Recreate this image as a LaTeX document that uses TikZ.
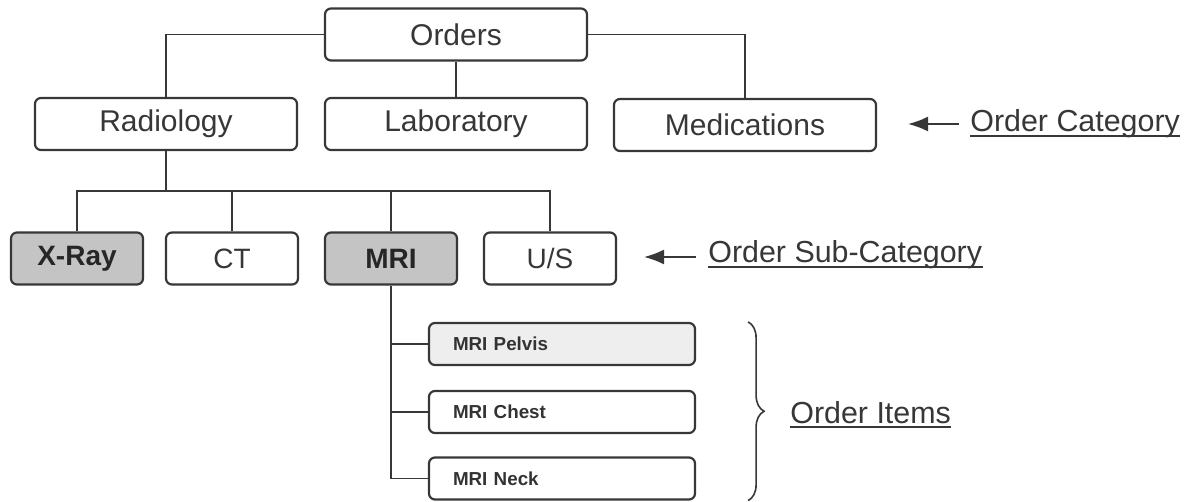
\documentclass[tikz,border=0pt]{standalone}
\usepackage{fontspec}
\setmainfont{Liberation Sans}
\usetikzlibrary{arrows.meta, positioning, calc, decorations.pathreplacing}
\usepackage{xcolor}
\definecolor{InkGray}{RGB}{55,55,55}
\definecolor{ShadeGray}{RGB}{196,196,196}
\definecolor{PaleGray}{RGB}{238,238,238}

\begin{document}
\begin{tikzpicture}[
          x=0.5pt, y=-0.5pt,
          category/.style={rectangle, draw=InkGray, line width=1.1pt, rounded corners=3pt, minimum width=131pt, minimum height=26pt, inner sep=0pt, text=InkGray, font=\fontsize{15}{18}\selectfont},
          subcat/.style={category, minimum width=66pt, font=\fontsize{14}{17}\selectfont},
          greyfill/.style={fill=ShadeGray, text=black!85, font=\fontsize{14}{17}\selectfont\bfseries},
          itembox/.style={rectangle, draw=InkGray, line width=1.1pt, rounded corners=3pt, text width=109pt, inner xsep=12pt, inner ysep=0pt, minimum height=21pt, align=left, text=black!80, font=\fontsize{9.4}{11}\selectfont\bfseries},
          link/.style={InkGray, line width=0.8pt},
          pointer/.style={-{Latex[length=10pt, width=7.5pt]}, InkGray, line width=0.8pt},
          note/.style={inner sep=0pt, anchor=base west, text=InkGray, font=\fontsize{15.2}{18}\selectfont}
        ]
          \useasboundingbox (0,0) rectangle (1195,502);

          % top level and categories
          \node (orders) [category] at (456,34.5) {Orders};
          \node (radiology) [category] at (166,124) {Radiology};
          \node (laboratory) [category] at (456,124) {Laboratory};
          \node (medications) [category] at (745,125) {Medications};

          % sub-categories
          \node (xray) [subcat, greyfill] at (77,258.5) {X-Ray};
          \node (ct) [subcat] at (232,258.5) {CT};
          \node (mri) [subcat, greyfill] at (391,258.5) {MRI};
          \node (us) [subcat] at (550,258.5) {U/S};

          % order items
          \node (pelvis) [itembox, fill=PaleGray] at (562,344) {MRI Pelvis};
          \node (chest) [itembox] at (562,412) {MRI Chest};
          \node (neck) [itembox] at (562,478.5) {MRI Neck};

          \coordinate (subbus) at (166,191);

          \draw [link] (orders.west) -| (radiology.north);
          \draw [link] (orders.east) -| (medications.north);
          \draw [link] (orders.south) -- (laboratory.north);

          \draw [link] (radiology.south) -- (subbus);
          \draw [link] (xray.north) |- (us.north |- subbus) -- (us.north);
          \draw [link] (ct.north) -- (ct.north |- subbus);
          \draw [link] (mri.north) -- (mri.north |- subbus);

          \draw [link] (mri.south) |- (neck.west);
          \draw [link] (pelvis.west) -- (pelvis.west -| mri.south);
          \draw [link] (chest.west) -- (chest.west -| mri.south);

          % side notes
          \node (catnote) [note] at (970,132) {Order Category};
          \node (subnote) [note] at (708,263) {Order Sub-Category};
          \node (itemnote) [note] at (790,423) {Order Items};

          \draw [InkGray, line width=0.9pt] ([yshift=-2pt]catnote.base west) -- ([yshift=-2pt]catnote.base east);
          \draw [InkGray, line width=0.9pt] ([yshift=-2pt]subnote.base west) -- ([yshift=-2pt]subnote.base east);
          \draw [InkGray, line width=0.9pt] ([yshift=-2pt]itemnote.base west) -- ([yshift=-2pt]itemnote.base east);

          \draw [pointer] ($(catnote.base west)+(-11,-8)$) -- ($(catnote.base west -| medications.east)+(31,-8)$);
          \draw [pointer] ($(subnote.base west)+(-12,-6)$) -- ($(subnote.base west -| us.east)+(27,-6)$);

          \draw [InkGray, line width=0.8pt, decorate, decoration={brace, amplitude=8pt}] ([xshift=26pt]pelvis.north east) -- ([xshift=26pt]neck.south east);
        \end{tikzpicture}
\end{document}
